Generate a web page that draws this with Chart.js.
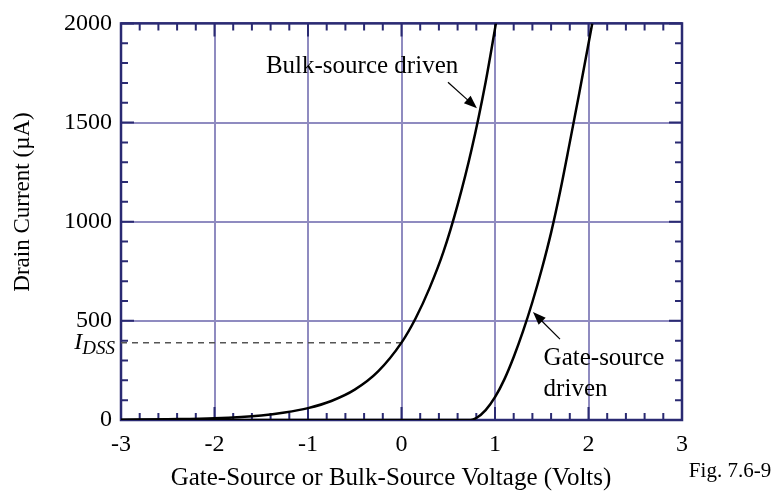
<!DOCTYPE html>
<html>
<head>
<meta charset="utf-8">
<script src="https://cdn.jsdelivr.net/npm/chart.js@4/dist/chart.umd.min.js"></script>
<style>
  html, body { margin: 0; padding: 0; background: #fff; }
  #wrap { width: 783px; height: 491px; }
</style>
</head>
<body>
<div id="wrap"><canvas id="cvs"></canvas></div>
<script>
// values (Volts, microamps)
var bulkV = [-3, -2.5, -2, -1.5, -1.25, -1, -0.75, -0.5, -0.25, 0, 0.15, 0.3, 0.45, 0.6, 0.75, 0.9, 1.01];
var bulkI = [1, 4, 9, 23, 38, 60, 96, 153, 245, 390, 512, 665, 850, 1085, 1365, 1705, 2000];
var gateV = [-3, 0.74, 0.8, 0.9, 1.0, 1.1, 1.2, 1.3, 1.4, 1.5, 1.6, 1.7, 1.8, 1.9, 2.04];
var gateI = [0, 0, 10, 50, 115, 205, 318, 448, 595, 760, 945, 1160, 1400, 1645, 2000];
var idssV = [-3, 0];
var idssI = [390, 390];

var xMin = -3, xMax = 3, xStep = 1, xMinor = 0.2;
var yMin = 0, yMax = 2000, yStep = 500, yMinor = 100;

var serif = "'Liberation Serif', 'Times New Roman', serif";
var navy = "#2a2a72";
var gridCol = "#8f8bc0";

function pts(xs, ys) {
	return xs.map(function (v, i) { return {x: v, y: ys[i]}; });
}

function arrow(ctx, x1, y1, x2, y2) {
	let a = Math.atan2(y2 - y1, x2 - x1);
	let len = 13, w = 5;
	ctx.beginPath();
	ctx.moveTo(x1, y1);
	ctx.lineTo(x2 - len * 0.8 * Math.cos(a), y2 - len * 0.8 * Math.sin(a));
	ctx.stroke();
	ctx.beginPath();
	ctx.moveTo(x2, y2);
	ctx.lineTo(x2 - len * Math.cos(a) + w * Math.sin(a), y2 - len * Math.sin(a) - w * Math.cos(a));
	ctx.lineTo(x2 - len * Math.cos(a) - w * Math.sin(a), y2 - len * Math.sin(a) + w * Math.cos(a));
	ctx.closePath();
	ctx.fill();
}

// frame, inward ticks on all four sides
var framePlugin = {
	id: "frame",
	beforeDatasetsDraw: function (chart) {
		let ctx = chart.ctx, a = chart.chartArea;
		let xs = chart.scales.x, ys = chart.scales.y;
		ctx.save();
		ctx.strokeStyle = navy;
		ctx.lineWidth = 2;
		let n = Math.round((xMax - xMin) / xMinor);
		for (let i = 0; i <= n; i++) {
			let px = xs.getPixelForValue(xMin + i * xMinor);
			let len = (i % Math.round(xStep / xMinor) == 0) ? 13 : 7;
			ctx.beginPath();
			ctx.moveTo(px, a.bottom); ctx.lineTo(px, a.bottom - len);
			ctx.moveTo(px, a.top); ctx.lineTo(px, a.top + len);
			ctx.stroke();
		}
		n = Math.round((yMax - yMin) / yMinor);
		for (let i = 0; i <= n; i++) {
			let py = ys.getPixelForValue(yMin + i * yMinor);
			let len = (i % Math.round(yStep / yMinor) == 0) ? 13 : 7;
			ctx.beginPath();
			ctx.moveTo(a.left, py); ctx.lineTo(a.left + len, py);
			ctx.moveTo(a.right, py); ctx.lineTo(a.right - len, py);
			ctx.stroke();
		}
		ctx.lineWidth = 2.5;
		ctx.strokeRect(a.left, a.top, a.right - a.left, a.bottom - a.top);
		ctx.restore();
	},
	afterDraw: function (chart) {
		let ctx = chart.ctx, a = chart.chartArea;
		let xs = chart.scales.x, ys = chart.scales.y;
		ctx.save();
		ctx.fillStyle = "#000";
		ctx.strokeStyle = "#000";
		ctx.lineWidth = 1.2;
		// axis titles
		ctx.font = "25px " + serif;
		ctx.textAlign = "center";
		ctx.textBaseline = "alphabetic";
		ctx.fillText("Gate-Source or Bulk-Source Voltage (Volts)", 391, 485);
		ctx.font = "21px " + serif;
		ctx.fillText("Fig. 7.6-9", 730, 477);
		ctx.save();
		ctx.translate(29, 202);
		ctx.rotate(-Math.PI / 2);
		ctx.font = "23px " + serif;
		ctx.fillText("Drain Current (\u00b5A)", 0, 0);
		ctx.restore();
		// I_DSS label
		let iy = ys.getPixelForValue(idssI[0]);
		ctx.textAlign = "right";
		ctx.font = "italic 19px " + serif;
		ctx.fillText("DSS", a.left - 6, iy + 11);
		let w = ctx.measureText("DSS").width;
		ctx.font = "italic 24px " + serif;
		ctx.fillText("I", a.left - 6 - w, iy + 6);
		// curve annotations
		ctx.font = "25px " + serif;
		ctx.textAlign = "left";
		ctx.textBaseline = "middle";
		ctx.fillText("Bulk-source driven", xs.getPixelForValue(-1.45), ys.getPixelForValue(1784));
		ctx.fillText("Gate-source", xs.getPixelForValue(1.52), ys.getPixelForValue(312));
		ctx.fillText("driven", xs.getPixelForValue(1.52), ys.getPixelForValue(156));
		arrow(ctx, xs.getPixelForValue(0.497), ys.getPixelForValue(1703), xs.getPixelForValue(0.807), ys.getPixelForValue(1572));
		arrow(ctx, xs.getPixelForValue(1.695), ys.getPixelForValue(408), xs.getPixelForValue(1.406), ys.getPixelForValue(544));
		ctx.restore();
	}
};

var config = {
	type: "scatter",
	data: {
		datasets: [
			{
				label: "Bulk-source driven",
				data: pts(bulkV, bulkI),
				showLine: true,
				borderColor: "#000",
				borderWidth: 2.5,
				pointRadius: 0,
				cubicInterpolationMode: "monotone"
			},
			{
				label: "Gate-source driven",
				data: pts(gateV, gateI),
				showLine: true,
				borderColor: "#000",
				borderWidth: 2.5,
				pointRadius: 0,
				cubicInterpolationMode: "monotone"
			},
			{
				label: "IDSS",
				data: pts(idssV, idssI),
				showLine: true,
				borderColor: "#555",
				borderWidth: 1.5,
				borderDash: [6, 5],
				pointRadius: 0
			}
		]
	},
	options: {
		responsive: true,
		maintainAspectRatio: false,
		animation: false,
		layout: {
			padding: {left: 0, top: 23, right: 101, bottom: 0}
		},
		plugins: {
			legend: false,
			tooltip: {enabled: false}
		},
		scales: {
			x: {
				type: "linear",
				min: xMin,
				max: xMax,
				afterFit: function (s) { s.height = 71; },
				ticks: {
					stepSize: xStep,
					padding: 10,
					color: "#000",
					font: {family: serif, size: 24},
					callback: function (v) { return String(v); }
				},
				grid: {color: gridCol, lineWidth: 2, drawTicks: false},
				border: {display: false}
			},
			y: {
				min: yMin,
				max: yMax,
				afterFit: function (s) { s.width = 121; },
				ticks: {
					stepSize: yStep,
					padding: 9,
					color: "#000",
					font: {family: serif, size: 24},
					callback: function (v) { return String(v); }
				},
				grid: {color: gridCol, lineWidth: 2, drawTicks: false},
				border: {display: false}
			}
		}
	},
	plugins: [framePlugin]
};

var chart = new Chart("cvs", config);
</script>
</body>
</html>
